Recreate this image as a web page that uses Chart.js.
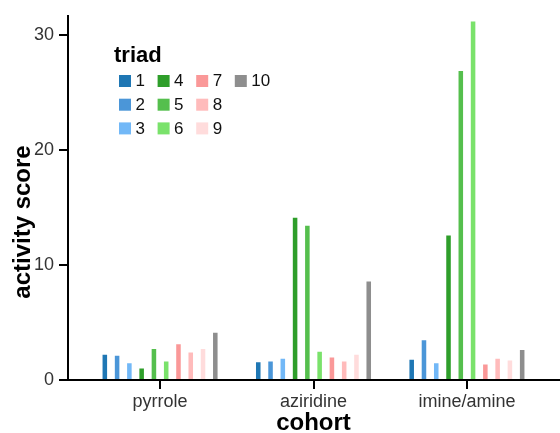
<!DOCTYPE html>
<html><head><meta charset="utf-8">
<script src="https://cdn.jsdelivr.net/npm/chart.js@4"></script>
<style>html,body{margin:0;padding:0;background:#fff;overflow:hidden}canvas{display:block}</style>
</head><body>
<canvas id="c" width="560" height="433"></canvas>
<script>
const cohorts = ['pyrrole', 'aziridine', 'imine/amine'];
const triads = ['1', '2', '3', '4', '5', '6', '7', '8', '9', '10'];
// activity score per triad (1..10) for each cohort
const pyrrole    = [2.2, 2.1, 1.45, 1.0, 2.7, 1.6, 3.1, 2.4, 2.7, 4.1];
const aziridine  = [1.55, 1.6, 1.85, 14.1, 13.4, 2.45, 1.95, 1.6, 2.2, 8.55];
const imineAmine = [1.75, 3.45, 1.45, 12.55, 26.85, 31.15, 1.35, 1.85, 1.7, 2.6];
const triadColors = ['#1F77B4', '#4B96D8', '#72B8F7', '#2E9E2A', '#55BF4D', '#7AE26B',
                     '#FA9898', '#FFBBBB', '#FFDCDC', '#8E8E8E'];
const yTicks = [0, 10, 20, 30];
const legendTitle = 'triad';
const xTitle = 'cohort';
const yTitle = 'activity score';

const FONT = "'Liberation Sans', Arial, Helvetica, sans-serif";
Chart.defaults.font.family = FONT;

const byCohort = [pyrrole, aziridine, imineAmine];
const datasets = triads.map((t, i) => ({
  label: t,
  data: cohorts.map((c, j) => ({ x: j + 1, y: byCohort[j][i] })),
  backgroundColor: triadColors[i],
  borderWidth: 0,
  categoryPercentage: 0.8,
  barPercentage: 0.37
}));

const legendPlugin = {
  id: 'triadLegend',
  afterDraw(chart) {
    const ctx = chart.ctx;
    ctx.save();
    ctx.fillStyle = '#000';
    ctx.textAlign = 'left';
    ctx.textBaseline = 'alphabetic';
    ctx.font = 'bold 22px ' + FONT;
    ctx.fillText(legendTitle, 114, 62);
    ctx.font = '17px ' + FONT;
    ctx.textBaseline = 'middle';
    chart.data.datasets.forEach((ds, i) => {
      const col = Math.floor(i / 3), row = i % 3;
      const x = 119 + col * 38.6, y = 75 + row * 23.7;
      ctx.fillStyle = ds.backgroundColor;
      ctx.fillRect(x, y, 12, 12);
      ctx.fillStyle = '#111';
      ctx.fillText(ds.label, x + 16.5, y + 6.5);
    });
    ctx.restore();
  }
};

const yTitlePlugin = {
  id: 'yTitle',
  afterDraw(chart) {
    const ctx = chart.ctx;
    ctx.save();
    ctx.translate(30, 222);
    ctx.rotate(-Math.PI / 2);
    ctx.font = 'bold 24px ' + FONT;
    ctx.fillStyle = '#000';
    ctx.textAlign = 'center';
    ctx.textBaseline = 'alphabetic';
    ctx.fillText(yTitle, 0, 0);
    ctx.restore();
  }
};

new Chart(document.getElementById('c'), {
  type: 'bar',
  data: { datasets },
  options: {
    responsive: false,
    animation: false,
    devicePixelRatio: 1,
    layout: { padding: { top: 13, right: 1, bottom: 0, left: 0 } },
    plugins: { legend: { display: false }, tooltip: { enabled: false } },
    scales: {
      x: {
        type: 'linear',
        offset: false,
        min: 0.4, max: 3.6,
        afterBuildTicks: s => { s.ticks = cohorts.map((c, j) => ({ value: j + 1 })); },
        afterFit: s => { s.height = 53; },
        ticks: {
          callback: (v, idx) => cohorts[idx],
          font: { size: 18 }, color: '#333', padding: 2, maxRotation: 0, autoSkip: false
        },
        grid: { display: true, offset: false, drawOnChartArea: false, drawTicks: true, tickLength: 9,
                tickWidth: 2, tickColor: '#000', color: '#000', lineWidth: 2 },
        border: { display: true, color: '#000', width: 2 },
        title: { display: true, text: xTitle, color: '#000',
                 font: { size: 24, weight: 'bold', lineHeight: 0.8 }, padding: 0 }
      },
      y: {
        min: 0, max: 31.65,
        afterBuildTicks: s => { s.ticks = yTicks.map(v => ({ value: v })); },
        afterFit: s => { s.width = 68; },
        ticks: { font: { size: 18 }, color: '#333', padding: 5 },
        grid: { display: true, drawOnChartArea: false, drawTicks: true, tickLength: 9,
                tickWidth: 2, tickColor: '#000', color: '#000', lineWidth: 2 },
        border: { display: true, color: '#000', width: 2 }
      }
    }
  },
  plugins: [legendPlugin, yTitlePlugin]
});
</script>
</body></html>
